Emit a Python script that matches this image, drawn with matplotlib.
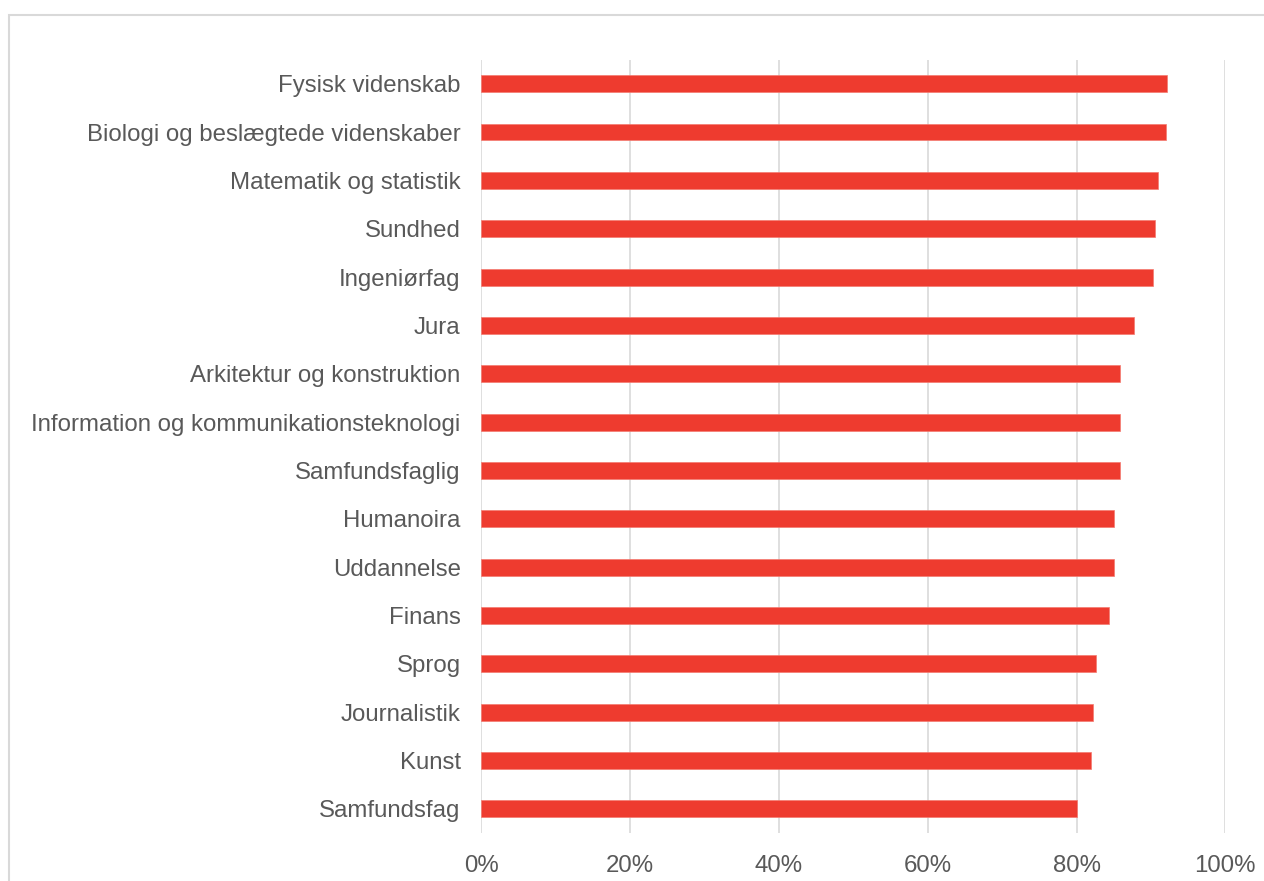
import matplotlib
matplotlib.use("Agg")
import matplotlib.pyplot as plt
from matplotlib.patches import Rectangle
from matplotlib.ticker import FuncFormatter

categories = [
    "Fysisk videnskab",
    "Biologi og beslægtede videnskaber",
    "Matematik og statistik",
    "Sundhed",
    "Ingeniørfag",
    "Jura",
    "Arkitektur og konstruktion",
    "Information og kommunikationsteknologi",
    "Samfundsfaglig",
    "Humanoira",
    "Uddannelse",
    "Finans",
    "Sprog",
    "Journalistik",
    "Kunst",
    "Samfundsfag",
]
values = [92.1, 92.0, 91.0, 90.6, 90.3, 87.7, 85.9, 85.9, 85.9, 85.1, 85.0, 84.3, 82.6, 82.2, 82.0, 80.0]
xticks = [0, 20, 40, 60, 80, 100]

W, H = 1264, 881
fig = plt.figure(figsize=(W / 100, H / 100), dpi=100)
plt.rcParams['font.family'] = ['Liberation Sans', 'DejaVu Sans']

# chart area frame (only top and left visible in the crop)
frame = Rectangle((8.5 / W, -0.1), 1.2, 1 - 15.5 / H + 0.1, transform=fig.transFigure,
                  fill=False, edgecolor='#d9d9d9', linewidth=1.5, clip_on=False)
fig.patches.append(frame)

ax = fig.add_axes([481.5 / W, 1 - 833 / H, (1225.3 - 481.5) / W, (833 - 59.5) / H])

ypos = list(range(len(categories)))
ax.barh(ypos, values, height=0.35, color='#EE3B2F', edgecolor='#F47A70', linewidth=0.5, zorder=3)

ax.set_ylim(len(categories) - 0.5, -0.5)
ax.set_xlim(0, 100)
ax.set_yticks(ypos)
ax.set_yticklabels(categories)
ax.set_xticks(xticks)
ax.xaxis.set_major_formatter(FuncFormatter(lambda v, p: f"{int(v)}%"))

ax.tick_params(axis='both', length=0, labelsize=17.3, labelcolor='#595959')
ax.tick_params(axis='y', pad=15)
ax.tick_params(axis='x', pad=16)

ax.grid(axis='x', color='#d9d9d9', linewidth=1.2, zorder=0)
ax.set_axisbelow(True)
for s in ax.spines.values():
    s.set_visible(False)

fig.savefig("out.png", dpi=100)
